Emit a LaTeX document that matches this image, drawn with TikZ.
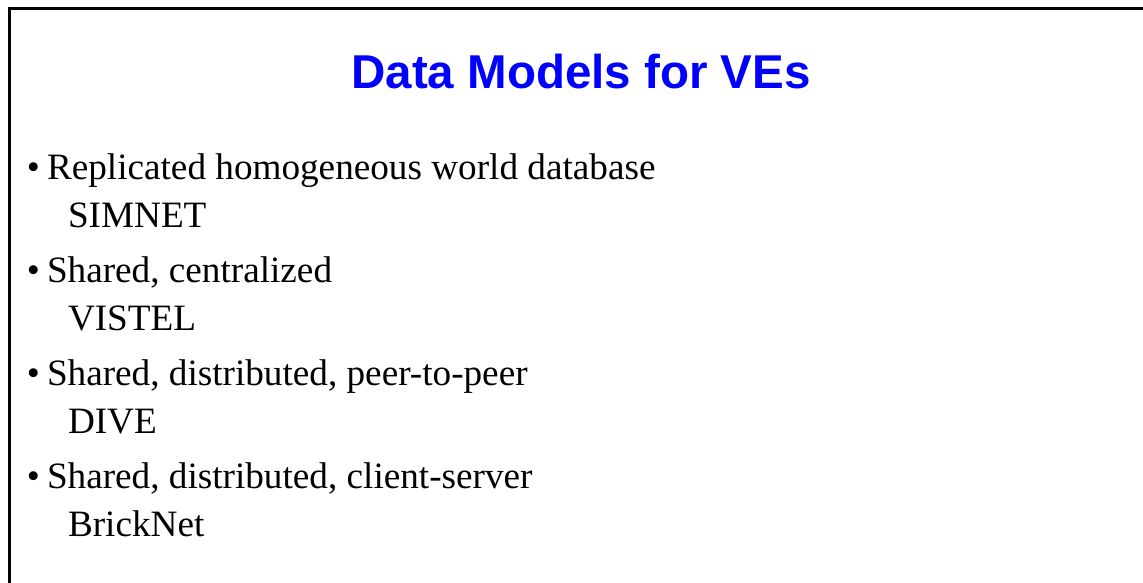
\documentclass[tikz,border=0pt]{standalone}
\usepackage{fontspec}
\setmainfont{Liberation Serif}
\newfontfamily\titlefont{Liberation Sans}
\definecolor{titleblue}{RGB}{0,0,255}

\begin{document}
\begin{tikzpicture}[x=1pt, y=-1pt,
    every node/.style={inner sep=0pt, outer sep=0pt, anchor=base west},
    slidetitle/.style={font=\titlefont\bfseries\fontsize{47.5}{56}\selectfont, text=titleblue, anchor=base},
    itemtext/.style={font=\fontsize{37.2}{45}\selectfont}]
  \clip (0,0) rectangle (1143,583);
  % slide frame, cut by the page on the right and at the bottom
  \draw[line width=3pt] (9,620) -- (9,9) -- (1160,9);
  \node[slidetitle] (title) at (581,89) {Data Models for VEs};
  \foreach \head/\ex [count=\i] in {Replicated homogeneous world database/SIMNET,
      {Shared, centralized}/VISTEL,
      {Shared, distributed, peer-to-peer}/DIVE,
      {Shared, distributed, client-server}/BrickNet} {
    \node[itemtext] (bul\i) at (27,{179+103*(\i-1)}) {\textbullet};
    \node[itemtext] (item\i) at (47,{179+103*(\i-1)}) {\head};
    \node[itemtext] (ex\i) at (68,{227+103*(\i-1)}) {\ex};
  }
\end{tikzpicture}
\end{document}
